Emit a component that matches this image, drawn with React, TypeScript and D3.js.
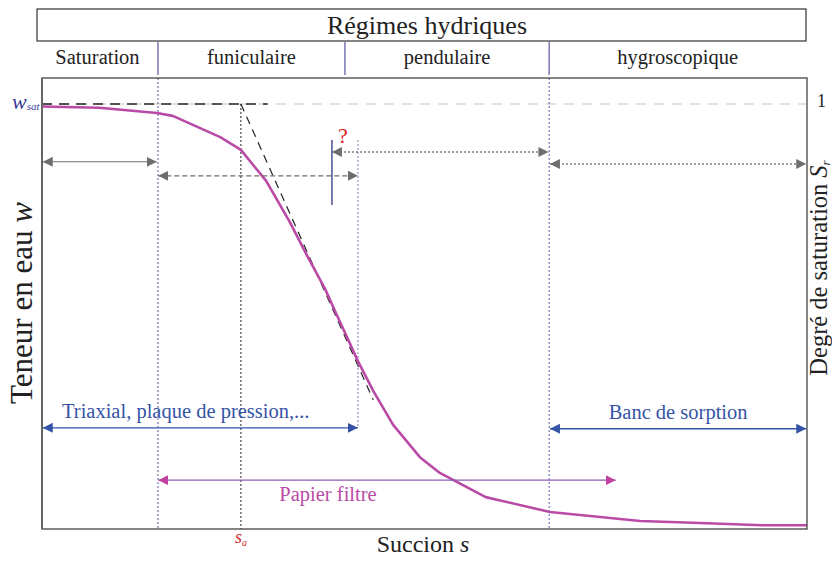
import React from 'react';
import * as d3 from 'd3';

// suction s (0-100, arbitrary) vs degree of saturation Sr (0-1)
const curveS = [0, 7.5, 15, 17.1, 23.3, 26, 29.3, 32.4, 34.6, 37, 38.6, 41.3, 43.3, 45.9, 49.4, 52, 58, 66.4, 78.2, 86, 94.2, 100];
const curveSr = [0.994, 0.991, 0.979, 0.972, 0.922, 0.892, 0.819, 0.722, 0.645, 0.565, 0.501, 0.395, 0.325, 0.245, 0.169, 0.132, 0.075, 0.04, 0.019, 0.014, 0.009, 0.009];

const regimes = ['Saturation', 'funiculaire', 'pendulaire', 'hygroscopique'];
const regimeBounds = [-0.65, 15.16, 39.6, 66.3, 99.9];

const sA = 26.0; // air entry suction
const tangentEnd = [43.3, 0.304];
const wsatLineEnd = 29.5;

// [s0, s1, Sr, style]
const rangeArrows: [number, number, number, string][] = [
  [0.1, 15.0, 0.864, 'solid'],
  [15.2, 41.3, 0.831, 'dashed'],
  [37.9, 66.2, 0.887, 'dotted'],
  [66.4, 99.9, 0.859, 'dotted'],
];

const methods = ['Triaxial, plaque de pression,...', 'Banc de sorption', 'Papier filtre'];
const methodS0 = [0.1, 66.4, 15.2];
const methodS1 = [41.3, 99.9, 75.0];
const methodSr = [0.238, 0.236, 0.115];

const W = 832;
const H = 561;
const plot = { left: 42, right: 807, top: 78, bottom: 529 };
const font = 'Liberation Serif, Times New Roman, serif';

export default function App() {
  const x = d3.scaleLinear().domain([0, 100]).range([plot.left, plot.right]);
  const y = d3.scaleLinear().domain([0, 1]).range([plot.bottom, 104]);

  const line = d3.line<number>()
    .x((_, i) => x(curveS[i]))
    .y(d => y(d))
    .curve(d3.curveLinear);

  const gray = '#6e6e6e';
  const blue = '#3553a6';
  const magenta = '#b94ba6';
  const slate = '#6a6aa8';

  const marker = (id: string, color: string) => (
    <marker id={id} viewBox="0 0 10 10" refX="10" refY="5" markerWidth="10" markerHeight="11"
      markerUnits="userSpaceOnUse" orient="auto-start-reverse">
      <path d="M0,0 L10,5 L0,10 Z" fill={color} />
    </marker>
  );

  const dashFor = (s: string) => (s === 'dashed' ? '5,3' : s === 'dotted' ? '2,2' : undefined);

  return (
    <svg width={W} height={H} fontFamily={font} style={{ position: 'absolute', left: 0, top: 0, background: '#fff' }}>
      <defs>
        {marker('ag', gray)}
        {marker('ab', blue)}
        {marker('am', '#c040a0')}
      </defs>

      {/* header */}
      <rect x={37} y={9} width={769} height={32} fill="none" stroke="#333" strokeWidth={1.2} />
      <text x={427} y={34} textAnchor="middle" fontSize={26} fill="#222">Régimes hydriques</text>
      {regimeBounds.slice(1, -1).map((b, i) => (
        <line key={i} x1={x(b)} x2={x(b)} y1={42} y2={75} stroke="#8080b8" strokeWidth={1.6} />
      ))}
      {regimes.map((r, i) => (
        <text key={r} x={(x(regimeBounds[i]) + x(regimeBounds[i + 1])) / 2} y={64} textAnchor="middle" fontSize={20.5} fill="#222">{r}</text>
      ))}

      {/* reference lines */}
      <line x1={x(0)} x2={x(100)} y1={y(1)} y2={y(1)} stroke="#c4c4c4" strokeWidth={1.2} strokeDasharray="10,8" />
      <line x1={x(0)} x2={x(wsatLineEnd)} y1={y(1)} y2={y(1)} stroke="#222" strokeWidth={1.3} strokeDasharray="10,7" />
      <line x1={x(sA)} x2={x(tangentEnd[0])} y1={y(1)} y2={y(tangentEnd[1])} stroke="#222" strokeWidth={1.2} strokeDasharray="8,6" />
      <line x1={x(sA)} x2={x(sA)} y1={y(1)} y2={plot.bottom} stroke="#222" strokeWidth={1} strokeDasharray="2,2" />
      {[regimeBounds[1], regimeBounds[3]].map((b, i) => (
        <line key={i} x1={x(b)} x2={x(b)} y1={plot.top} y2={plot.bottom} stroke="#5a5aa6" strokeWidth={1} strokeDasharray="2,2" />
      ))}
      <line x1={x(methodS1[0])} x2={x(methodS1[0])} y1={140} y2={y(methodSr[0])} stroke="#8080b0" strokeWidth={1} strokeDasharray="2,2" />

      {/* curve */}
      <path d={line(curveSr) || ''} fill="none" stroke={magenta} strokeWidth={2.6} strokeLinejoin="round" />

      {/* regime range arrows */}
      {rangeArrows.map(([a, b, sr, st], i) => (
        <line key={i} x1={x(a)} x2={x(b)} y1={y(sr)} y2={y(sr)} stroke={st === 'dotted' ? '#7a7a7a' : gray}
          strokeWidth={st === 'dotted' ? 1.6 : 1.1} strokeDasharray={dashFor(st)}
          markerStart="url(#ag)" markerEnd="url(#ag)" />
      ))}
      <line x1={x(rangeArrows[2][0])} x2={x(rangeArrows[2][0])} y1={140} y2={205} stroke={slate} strokeWidth={1.8} />
      <text x={343} y={143} textAnchor="middle" fontSize={22} fill="#e02020">?</text>

      {/* measurement methods */}
      {methods.map((m, i) => {
        const isPaper = i === 2;
        const col = isPaper ? magenta : blue;
        return (
          <g key={m}>
            <line x1={x(methodS0[i])} x2={x(methodS1[i])} y1={y(methodSr[i])} y2={y(methodSr[i])}
              stroke={isPaper ? '#8a5cb4' : blue} strokeWidth={1.4}
              markerStart={isPaper ? 'url(#am)' : 'url(#ab)'} markerEnd={isPaper ? 'url(#am)' : 'url(#ab)'} />
            <text x={isPaper ? 328 : i === 0 ? 62 : (x(methodS0[i]) + x(methodS1[i])) / 2}
              y={isPaper ? y(methodSr[i]) + 21 : y(methodSr[i]) - 10}
              textAnchor={i === 0 ? 'start' : 'middle'} fontSize={20.5} fill={col}>{m}</text>
          </g>
        );
      })}

      {/* frame */}
      <rect x={plot.left} y={plot.top} width={plot.right - plot.left} height={plot.bottom - plot.top} fill="none" stroke="#444" strokeWidth={1.3} />
      <line x1={plot.left} x2={plot.left} y1={plot.top} y2={plot.bottom} stroke="#666" strokeWidth={2} />

      {/* axis labels */}
      <text x={12} y={109} fontSize={22} fontStyle="italic" fill="#3a3a9a">w<tspan fontSize={11} dy={1}>sat</tspan></text>
      <text x={817} y={107} fontSize={18} fill="#222">1</text>
      <text transform="translate(32,303) rotate(-90)" textAnchor="middle" fontSize={31} fill="#222">
        Teneur en eau <tspan fontStyle="italic">w</tspan>
      </text>
      <text transform="translate(827,268) rotate(-90)" textAnchor="middle" fontSize={24.5} fill="#222">
        Degré de saturation <tspan fontStyle="italic">S</tspan><tspan fontStyle="italic" fontSize={13} dy={3}>r</tspan>
      </text>
      <text x={423} y={552} textAnchor="middle" fontSize={24} fill="#222">
        Succion <tspan fontStyle="italic">s</tspan>
      </text>
      <text x={x(sA)} y={543} textAnchor="middle" fontSize={18} fontStyle="italic" fill="#d02828">
        s<tspan fontSize={10} dy={3}>a</tspan>
      </text>
    </svg>
  );
}
